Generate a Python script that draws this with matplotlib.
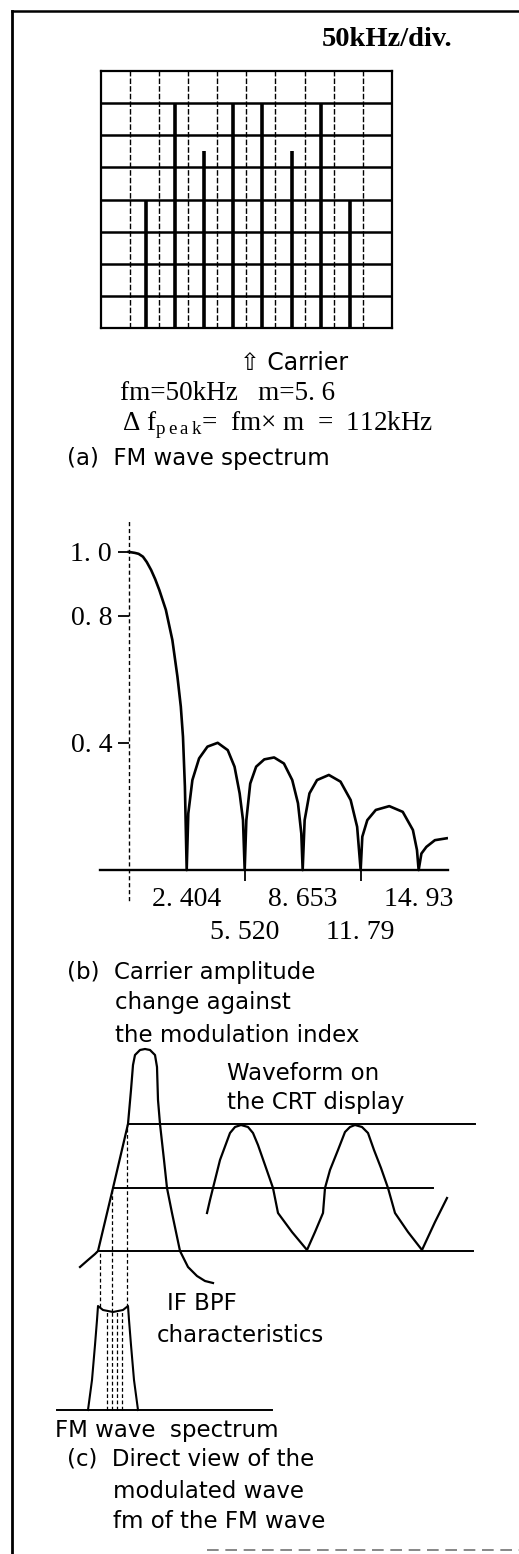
import numpy as np
import matplotlib
matplotlib.use('Agg')
import matplotlib.pyplot as plt
from matplotlib.lines import Line2D

W, H = 519, 1554

plt.rcParams['font.family'] = ['Liberation Serif', 'DejaVu Serif']
plt.rcParams['mathtext.fontset'] = 'custom'
plt.rcParams['mathtext.rm'] = 'Liberation Serif'
SANS = ['DejaVu Sans']

# (a) spectrum analyzer screen: 10 x 8 divisions, 50 kHz/div
n_div_x, n_div_y = 10, 8
line_pos = [1.55, 2.55, 3.55, 4.55, 5.55, 6.55, 7.55, 8.55]
line_height = [4.0, 7.0, 5.5, 7.0, 7.0, 5.5, 7.0, 4.0]

# (b) carrier amplitude against modulation index (as drawn)
zeros_m = [2.404, 5.520, 8.653, 11.79, 14.93]
zero_labels = ['2. 404', '5. 520', '8. 653', '11. 79', '14. 93']
m_vals = [0.0, 0.25, 0.41, 0.59, 0.75, 0.93, 1.1, 1.27, 1.54, 1.81, 2.02, 2.16, 2.25, 2.33, 2.404,
          2.49, 2.71, 3.07, 3.52, 4.07, 4.61, 4.975, 5.25, 5.43, 5.52,
          5.61, 5.82, 6.14, 6.58, 7.11, 7.64, 8.09, 8.40, 8.58, 8.653,
          8.76, 9.02, 9.43, 10.07, 10.70, 11.25, 11.60, 11.79,
          11.88, 12.15, 12.61, 13.34, 14.07, 14.62, 14.84, 14.93,
          15.08, 15.35, 15.81, 16.45]
amp_vals = [1.0, 0.997, 0.994, 0.985, 0.968, 0.943, 0.914, 0.88, 0.818, 0.723, 0.608, 0.514, 0.419, 0.262, 0.0,
            0.178, 0.283, 0.351, 0.388, 0.40, 0.377, 0.325, 0.241, 0.157, 0.0,
            0.157, 0.272, 0.325, 0.348, 0.354, 0.335, 0.283, 0.21, 0.115, 0.0,
            0.157, 0.241, 0.283, 0.299, 0.278, 0.22, 0.136, 0.0,
            0.105, 0.157, 0.189, 0.201, 0.183, 0.126, 0.063, 0.0,
            0.052, 0.073, 0.094, 0.10]
amp_ticks = [0.4, 0.8, 1.0]
amp_labels = ['0. 4', '0. 8', '1. 0']

# (c) schematic: IF BPF, CRT waveform, FM spectrum (x right, y up)
bpf_x = [40, 48, 55, 58, 73, 88, 91, 93, 95, 100, 105, 110, 115, 117, 118, 120,
         124, 127, 132, 140, 148, 157, 165, 173]
bpf_y = [153, 160, 166, 169, 232, 296, 330, 355, 365, 370, 371, 370, 365, 353, 320, 296,
         260, 232, 207, 169, 153, 144, 139, 137]
crt_x = [167, 170, 173, 180, 190, 195, 201, 208, 213, 218, 225, 233, 238, 252, 267,
         275, 283, 285, 290, 298, 305, 310, 315, 322, 328, 334, 341, 348, 355, 368,
         382, 395, 407]
crt_y = [207, 220, 232, 260, 287, 293, 295, 293, 287, 275, 255, 232, 207, 188, 170,
         188, 207, 232, 250, 270, 288, 293, 295, 293, 287, 270, 252, 232, 207, 188,
         170, 198, 222]
crt_levels = [296, 232, 169]
crt_start = [88, 73, 58]
crt_end = [435, 393, 433]
spec_x = [48, 52, 55, 57, 58, 63, 73, 83, 88, 89, 91, 94, 98]
spec_y = [10, 40, 75, 100, 114, 110, 108, 110, 114, 100, 75, 40, 10]
spec_base = [17, 232]
inner_x = [67, 72, 77, 82]
inner_top = [109, 108, 108, 109]
guide_x = [60, 72, 87]
guide_bottom = [113, 108, 113]
guide_top = [169, 232, 296]


def box(x0, y0, x1, y1):
    return [x0 / W, 1 - y1 / H, (x1 - x0) / W, (y1 - y0) / H]


def put(x, y, s, size=16.5, family=None, **kw):
    fig.text(x / W, 1 - y / H, s, fontsize=size, ha='left', va='center',
             family=family if family else plt.rcParams['font.family'], **kw)


fig = plt.figure(figsize=(W / 100, H / 100), dpi=100)

# frame
bg = fig.add_axes(box(12, 11, W + 10, H + 10))
bg.set_xticks([])
bg.set_yticks([])
bg.patch.set_visible(False)
bg.spines['right'].set_visible(False)
bg.spines['bottom'].set_visible(False)
bg.spines['left'].set_linewidth(2)
bg.spines['top'].set_linewidth(1.8)
fig.add_artist(Line2D([207 / W, 1], [1 - 1550 / H] * 2, transform=fig.transFigure,
                      color='0.45', lw=1.2, ls=(0, (7, 4))))

# ---- (a)
ax_a = fig.add_axes(box(100.7, 71, 392, 328))
ax_a.set_xlim(0, n_div_x)
ax_a.set_ylim(0, n_div_y)
ax_a.set_xticks([])
ax_a.set_yticks([])
for v in range(1, n_div_x):
    ax_a.axvline(v, color='k', lw=1.0, ls=(0, (4, 1.5)))
for v in range(1, n_div_y):
    ax_a.axhline(v, color='k', lw=1.8)
ax_a.vlines(line_pos, 0, line_height, color='k', lw=2.6)
for sp in ax_a.spines.values():
    sp.set_linewidth(1.6)

put(322, 40, '50kHz/div.', size=20.5, weight='bold')
put(240, 363, '\u21e7 Carrier', family=SANS, size=17)
put(120, 393, 'fm=50kHz   m=5. 6', size=19.5)
put(122, 425, r'$\Delta$ f$_{\mathrm{p\,e\,a\,k}}$=  fm$\times$ m  =  112kHz', size=19.5)
put(67, 458, '(a)  FM wave spectrum', family=SANS)

# ---- (b)
m_knots = [-30.0, 0.0] + zeros_m + [40.0]
u_knots = [-30.0 / zeros_m[0], 0.0] + list(range(1, len(zeros_m) + 1)) + \
          [len(zeros_m) + (40.0 - zeros_m[-1]) / (zeros_m[-1] - zeros_m[-2])]


def fwd(m):
    return np.interp(m, m_knots, u_knots)


def inv(u):
    return np.interp(u, u_knots, m_knots)


ax_b = fig.add_axes(box(100, 522, 448, 900))
ax_b.set_xscale('function', functions=(fwd, inv))
ax_b.set_xlim(-1.19, 16.52)
ax_b.set_ylim(-0.094, 1.094)
ax_b.patch.set_visible(False)
ax_b.plot(m_vals, amp_vals, color='k', lw=1.9, solid_joinstyle='round')
ax_b.spines['top'].set_visible(False)
ax_b.spines['right'].set_visible(False)
ax_b.spines['left'].set_position(('data', 0))
ax_b.spines['left'].set_linestyle((0, (2, 3)))
ax_b.spines['left'].set_linewidth(1)
ax_b.spines['bottom'].set_position(('data', 0))
ax_b.spines['bottom'].set_linewidth(1.7)
ax_b.set_yticks(amp_ticks, labels=amp_labels)
ax_b.set_xticks(zeros_m[0::2], labels=zero_labels[0::2])
ax_b.set_xticks(zeros_m[1::2], labels=zero_labels[1::2], minor=True)
ax_b.tick_params(axis='y', length=8, width=1.3, pad=4, labelsize=20)
ax_b.tick_params(axis='x', which='major', length=0, pad=12, labelsize=20)
ax_b.tick_params(axis='x', which='minor', length=8, width=1.3, pad=28, labelsize=20)

put(67, 972, '(b)  Carrier amplitude', family=SANS)
put(115, 1003, 'change against', family=SANS)
put(115, 1035, 'the modulation index', family=SANS)

# ---- (c)
ax_c = fig.add_axes(box(40, 1030, 490, 1420))
ax_c.set_xlim(0, 450)
ax_c.set_ylim(0, 390)
ax_c.axis('off')
for lv, x0, x1 in zip(crt_levels, crt_start, crt_end):
    ax_c.plot([x0, x1], [lv, lv], color='k', lw=1.4)
ax_c.plot(bpf_x, bpf_y, color='k', lw=1.6)
ax_c.plot(crt_x, crt_y, color='k', lw=1.6)
ax_c.plot(spec_base, [spec_y[0]] * 2, color='k', lw=1.4)
ax_c.plot(spec_x, spec_y, color='k', lw=1.5)
ax_c.vlines(inner_x, spec_y[0], inner_top, color='k', lw=0.9, ls=(0, (3, 2)))
ax_c.vlines(guide_x, guide_bottom, guide_top, color='k', lw=0.9, ls=(0, (3, 2)))

put(227, 1073, 'Waveform on', family=SANS)
put(227, 1103, 'the CRT display', family=SANS)
put(167, 1303, 'IF BPF', family=SANS)
put(157, 1335, 'characteristics', family=SANS)
put(55, 1430, 'FM wave  spectrum', family=SANS)
put(67, 1459, '(c)  Direct view of the', family=SANS)
put(113, 1491, 'modulated wave', family=SANS)
put(113, 1522, 'fm of the FM wave', family=SANS)

fig.savefig('out.png', dpi=100)
